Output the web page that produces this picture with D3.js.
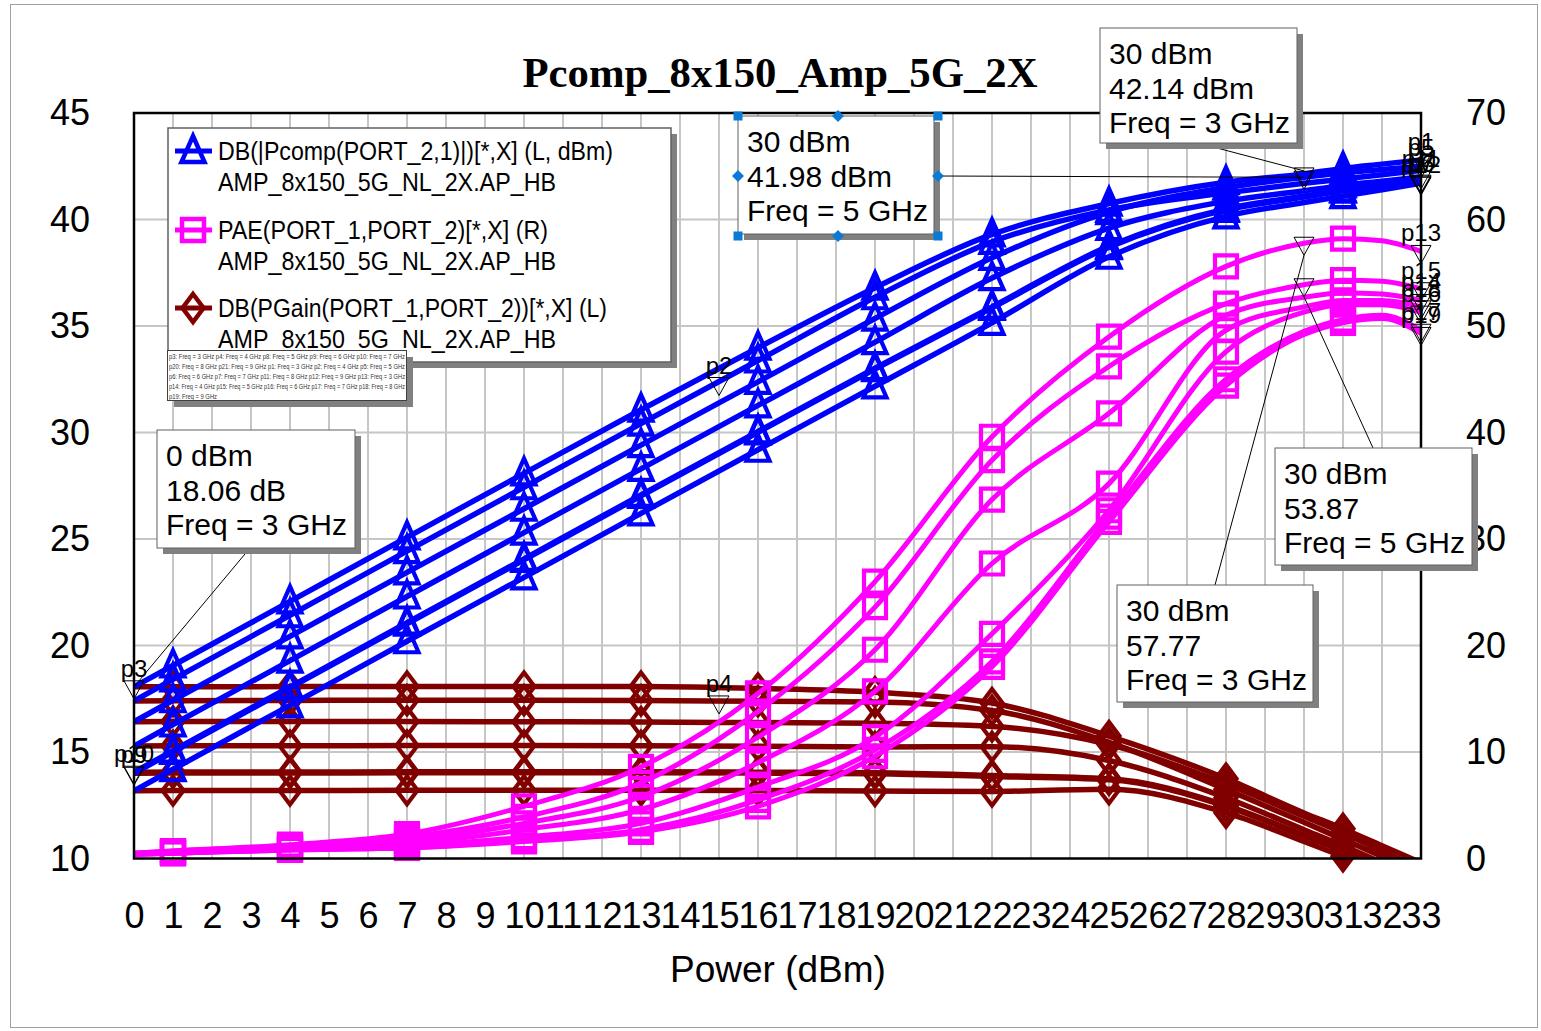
<!DOCTYPE html>
<html>
<head>
<meta charset="utf-8">
<script src="https://cdn.jsdelivr.net/npm/d3@7"></script>
<style>
  body { margin: 0; background: #fff; }
  svg { display: block; }
</style>
</head>
<body>
<svg id="chart" width="1541" height="1031"></svg>
<script>
// ---- Sweep (input power, dBm) and tick values ----
const powerIn = [0, 1, 4, 7, 10, 13, 16, 19, 22, 25, 28, 30, 31, 32, 33];
const symbolSteps = [1, 4, 7, 10, 13, 16, 19, 22, 25, 28, 31];
const xTicks = [0,1,2,3,4,5,6,7,8,9,10,11,12,13,14,15,16,17,18,19,20,21,22,23,24,25,26,27,28,29,30,31,32,33];
const leftTicks = [10, 15, 20, 25, 30, 35, 40, 45];
const rightTicks = [0, 10, 20, 30, 40, 50, 60, 70];
const freqs = ["3 GHz", "4 GHz", "5 GHz", "6 GHz", "7 GHz", "8 GHz", "9 GHz"];

// ---- DB(|Pcomp(PORT_2,1)|) output power, dBm (left axis) ----
const pcomp3GHz = [18.06,19.06,22.07,25.08,28.08,31.07,33.98,36.80,39.30,40.75,41.75,42.14,42.40,42.60,42.80];
const pcomp4GHz = [17.40,18.41,21.42,24.43,27.43,30.42,33.38,36.35,38.95,40.45,41.25,41.70,41.90,42.10,42.30];
const pcomp5GHz = [16.42,17.43,20.43,23.43,26.42,29.41,32.38,35.35,38.20,40.35,41.50,41.98,42.20,42.35,42.50];
const pcomp6GHz = [14.00,15.01,18.01,21.02,24.02,27.02,30.01,32.98,35.85,38.70,40.45,41.05,41.35,41.55,41.75];
const pcomp7GHz = [14.05,15.06,18.06,21.07,24.07,27.07,30.05,33.02,35.90,38.75,40.50,41.10,41.40,41.60,41.80];
const pcomp8GHz = [15.28,16.29,19.29,22.30,25.30,28.29,31.27,34.24,37.25,39.60,40.85,41.35,41.60,41.80,42.00];
const pcomp9GHz = [13.18,14.19,17.19,20.20,23.20,26.20,29.19,32.17,35.15,38.25,40.15,40.80,41.10,41.40,41.70];

// ---- PAE(PORT_1,PORT_2), % (right axis) ----
const pae3GHz = [0.5,0.7,1.3,2.3,4.9,8.6,15.5,26.0,39.6,49.0,55.6,57.77,58.2,58.0,57.0];
const pae4GHz = [0.5,0.6,1.1,1.7,3.3,5.8,11.4,19.6,33.7,41.8,51.0,52.7,53.1,53.0,52.4];
const pae5GHz = [0.5,0.7,1.2,2.0,3.9,7.1,13.8,23.6,37.4,46.2,52.1,53.87,54.3,54.2,53.5];
const pae6GHz = [0.4,0.5,0.9,1.2,2.0,3.3,6.7,11.4,21.1,32.7,47.6,51.3,52.0,52.0,51.3];
const pae7GHz = [0.4,0.5,0.8,1.0,1.7,2.7,5.5,10.2,18.5,32.1,45.0,49.5,50.6,51.0,49.6];
const pae8GHz = [0.4,0.6,1.0,1.4,2.7,4.6,9.0,15.7,27.7,35.2,49.6,51.8,52.4,52.4,51.8];
const pae9GHz = [0.4,0.5,0.8,1.0,1.6,2.5,4.9,9.6,18.0,31.6,44.4,49.2,50.3,50.7,49.3];

// ---- DB(PGain(PORT_1,PORT_2)) power gain, dB (left axis) ----
const gain3GHz = [18.06,18.06,18.07,18.08,18.08,18.07,17.98,17.80,17.30,15.75,13.75,12.14,11.40,10.60,9.80];
const gain4GHz = [17.40,17.41,17.42,17.43,17.43,17.42,17.38,17.35,16.95,15.45,13.25,11.70,10.90,10.10,9.30];
const gain5GHz = [16.42,16.43,16.43,16.43,16.42,16.41,16.38,16.35,16.20,15.35,13.50,11.98,11.20,10.35,9.50];
const gain6GHz = [14.00,14.01,14.01,14.02,14.02,14.02,14.01,13.98,13.85,13.70,12.45,11.05,10.35,9.55,8.75];
const gain7GHz = [14.05,14.06,14.06,14.07,14.07,14.07,14.05,14.02,13.90,13.75,12.50,11.10,10.40,9.60,8.80];
const gain8GHz = [15.28,15.29,15.29,15.30,15.30,15.29,15.27,15.24,15.25,14.60,12.85,11.35,10.60,9.80,9.00];
const gain9GHz = [13.18,13.19,13.19,13.20,13.20,13.20,13.19,13.17,13.15,13.25,12.15,10.80,10.10,9.40,8.70];

// ---- Named markers (label, input power, value, axis) ----
const markerNames  = ["p3","p9","p10","p4","p2","p1","p5","p6","p7","p11","p12","p13","p14","p15","p16","p17","p18","p19"];
const markerPower  = [0, 0, 0, 15, 15, 33, 33, 33, 33, 33, 33, 33, 33, 33, 33, 33, 33, 33];
const markerValues = [18.06, 14.00, 14.05, 17.35, 32.30, 42.80, 42.50, 41.75, 41.80, 42.00, 41.70, 57.0, 52.4, 53.5, 51.3, 49.6, 51.8, 49.3];
const markerAxis   = ["L","L","L","L","L","L","L","L","L","L","L","R","R","R","R","R","R","R"];

// ---- Marker read-outs ----
const readoutPower = [0, 30, 30, 30, 30];
const readoutValue = [18.06, 41.98, 42.14, 53.87, 57.77];
const readoutUnit  = [" dB", " dBm", " dBm", "", ""];
const readoutFreq  = ["3 GHz", "5 GHz", "3 GHz", "5 GHz", "3 GHz"];
const readoutAxis  = ["L", "L", "L", "R", "R"];

// ---- Marker list text ----
const markerListLines = [
  "p3: Freq = 3 GHz p4: Freq = 4 GHz p8: Freq = 5 GHz p9: Freq = 6 GHz p10: Freq = 7 GHz",
  "p20: Freq = 8 GHz p21: Freq = 9 GHz p1: Freq = 3 GHz p2: Freq = 4 GHz p5: Freq = 5 GHz",
  "p6: Freq = 6 GHz p7: Freq = 7 GHz p11: Freq = 8 GHz p12: Freq = 9 GHz p13: Freq = 3 GHz",
  "p14: Freq = 4 GHz p15: Freq = 5 GHz p16: Freq = 6 GHz p17: Freq = 7 GHz p18: Freq = 8 GHz",
  "p19: Freq = 9 GHz"
];

// =================================================================
const SANS = "'Liberation Sans', Arial, sans-serif";
const SERIF = "'Liberation Serif', 'Times New Roman', serif";
const svg = d3.select("#chart");
const plot = { left: 134, right: 1421, top: 113, bottom: 858.5 };

const x  = d3.scaleLinear().domain([0, 33]).range([plot.left, plot.right]);
const yL = d3.scaleLinear().domain([10, 45]).range([plot.bottom, plot.top]);
const yR = d3.scaleLinear().domain([0, 70]).range([plot.bottom, plot.top]);
const yOf = axis => axis === "R" ? yR : yL;

svg.append("rect").attr("width", 1541).attr("height", 1031).attr("fill", "#fff");
// outer border
svg.append("rect").attr("x", 10.5).attr("y", 4.5).attr("width", 1527).attr("height", 1023)
  .attr("fill", "none").attr("stroke", "#a0a0a0").attr("stroke-width", 1);

// title
svg.append("text").attr("x", 780).attr("y", 87).attr("text-anchor", "middle")
  .attr("font-family", SERIF).attr("font-weight", "bold").attr("font-size", 42)
  .attr("textLength", 515).attr("lengthAdjust", "spacingAndGlyphs")
  .text("Pcomp_8x150_Amp_5G_2X");

// grid
const grid = svg.append("g").attr("stroke", "#c6c6c6").attr("stroke-width", 2);
grid.selectAll("line.v").data(xTicks.filter(t => t > 0 && t < 33)).join("line")
  .attr("x1", d => x(d)).attr("x2", d => x(d)).attr("y1", plot.top).attr("y2", plot.bottom);
grid.selectAll("line.h").data(leftTicks.filter(t => t > 10 && t < 45)).join("line")
  .attr("x1", plot.left).attr("x2", plot.right).attr("y1", d => yL(d)).attr("y2", d => yL(d));

// axes
function styleAxis(g) {
  g.select(".domain").remove();
  g.attr("font-family", SANS).attr("font-size", 36);
  g.selectAll("text").attr("fill", "#000");
}
svg.append("g").attr("transform", `translate(0,${plot.bottom})`)
  .call(d3.axisBottom(x).tickValues(xTicks).tickSize(0).tickPadding(44).tickFormat(d3.format("d")))
  .call(styleAxis);
svg.append("g").attr("transform", `translate(${plot.left},0)`)
  .call(d3.axisLeft(yL).tickValues(leftTicks).tickSize(0).tickPadding(44).tickFormat(d3.format("d")))
  .call(styleAxis);
svg.append("g").attr("transform", `translate(${plot.right},0)`)
  .call(d3.axisRight(yR).tickValues(rightTicks).tickSize(0).tickPadding(45).tickFormat(d3.format("d")))
  .call(styleAxis);

svg.append("text").attr("x", 778).attr("y", 982).attr("text-anchor", "middle")
  .attr("font-family", SANS).attr("font-size", 37).text("Power (dBm)");

// clip for traces
svg.append("defs").append("clipPath").attr("id", "plotClip").append("rect")
  .attr("x", plot.left).attr("y", plot.top).attr("width", plot.right - plot.left).attr("height", plot.bottom - plot.top);

// symbol shapes
const symbolPath = {
  triangle: "M0,-15L11.5,11L-11.5,11Z",
  square: "M-11,-11H11V11H-11Z",
  diamond: "M0,-14L10.5,0L0,14L-10.5,0Z"
};

const traces = [
  { name: "gain", axis: "L", color: "#800000", width: 5.5, symbol: "diamond",
    series: [gain3GHz, gain4GHz, gain5GHz, gain6GHz, gain7GHz, gain8GHz, gain9GHz] },
  { name: "pae", axis: "R", color: "#ff00ff", width: 5, symbol: "square",
    series: [pae3GHz, pae4GHz, pae5GHz, pae6GHz, pae7GHz, pae8GHz, pae9GHz] },
  { name: "pcomp", axis: "L", color: "#0000ff", width: 5.5, symbol: "triangle",
    series: [pcomp3GHz, pcomp4GHz, pcomp5GHz, pcomp6GHz, pcomp7GHz, pcomp8GHz, pcomp9GHz] }
];

const traceLayer = svg.append("g");
traces.forEach(tr => {
  const ys = yOf(tr.axis);
  const line = d3.line().x((d, i) => x(powerIn[i])).y(d => ys(d)).curve(d3.curveMonotoneX);
  const g = traceLayer.append("g").attr("class", tr.name);
  g.append("g").attr("clip-path", "url(#plotClip)")
    .selectAll("path").data(tr.series).join("path")
    .attr("d", line).attr("fill", "none").attr("stroke", tr.color)
    .attr("stroke-width", tr.width).attr("stroke-linejoin", "round");
  const pts = [];
  tr.series.forEach((s, si) => s.forEach((v, i) => {
    if (symbolSteps.includes(powerIn[i])) pts.push({ px: x(powerIn[i]), py: ys(v) });
  }));
  g.append("g").selectAll("path").data(pts).join("path")
    .attr("transform", d => `translate(${d.px},${d.py})`)
    .attr("d", symbolPath[tr.symbol]).attr("fill", "none")
    .attr("stroke", tr.color).attr("stroke-width", 4.2).attr("stroke-linejoin", "miter");
});

// marker glyph: open downward triangle sitting just under the point
const markTri = "M-10,-6L10,-6L0,12Z";
const markLayer = svg.append("g");
markerNames.forEach((nm, i) => {
  const px = x(markerPower[i]), py = yOf(markerAxis[i])(markerValues[i]);
  markLayer.append("path").attr("transform", `translate(${px},${py})`).attr("d", markTri)
    .attr("fill", "none").attr("stroke", "#000").attr("stroke-width", 1);
  markLayer.append("text").attr("x", px).attr("y", py - 10).attr("text-anchor", "middle")
    .attr("font-family", SANS).attr("font-size", 24).attr("fill", "#000").text(nm);
});

// read-out boxes
const boxLayout = [
  { x: 157, y: 430, w: 198, h: 118, ax: 250, ay: 548, tip: 0 },
  { x: 738, y: 116, w: 196, h: 118, ax: 938, ay: 176, tip: 0, selected: true },
  { x: 1100, y: 28, w: 197, h: 115, ax: 1198, ay: 143, tip: -3 },
  { x: 1275, y: 448, w: 197, h: 117, ax: 1373, ay: 448, tip: 12 },
  { x: 1117, y: 585, w: 196, h: 117, ax: 1215, ay: 585, tip: 12 }
];
const readLayer = svg.append("g");
readoutValue.forEach((v, i) => {
  const b = boxLayout[i];
  const px = x(readoutPower[i]), py = yOf(readoutAxis[i])(v);
  if (readoutPower[i] !== 0) {
    readLayer.append("path").attr("transform", `translate(${px},${py})`).attr("d", markTri)
      .attr("fill", "none").attr("stroke", "#000").attr("stroke-width", 1);
  }
  readLayer.append("line").attr("x1", b.ax).attr("y1", b.ay).attr("x2", px).attr("y2", py + b.tip)
    .attr("stroke", "#000").attr("stroke-width", 1);
});
readoutValue.forEach((v, i) => {
  const b = boxLayout[i];
  const g = readLayer.append("g");
  g.append("rect").attr("x", b.x + 6).attr("y", b.y + 6).attr("width", b.w).attr("height", b.h).attr("fill", "#808080");
  g.append("rect").attr("x", b.x).attr("y", b.y).attr("width", b.w).attr("height", b.h)
    .attr("fill", "#fff").attr("stroke", "#606060").attr("stroke-width", 1);
  const lines = [`${readoutPower[i]} dBm`, `${v.toFixed(2)}${readoutUnit[i]}`, `Freq = ${readoutFreq[i]}`];
  g.selectAll("text").data(lines).join("text")
    .attr("x", b.x + 9).attr("y", (d, k) => b.y + 36 + k * 34.5)
    .attr("font-family", SANS).attr("font-size", 30).attr("fill", "#000").text(d => d);
  if (b.selected) {
    const hc = "#0a7ad6";
    const corners = [[b.x, b.y], [b.x + b.w + 4, b.y], [b.x, b.y + b.h + 2], [b.x + b.w + 4, b.y + b.h + 2]];
    const mids = [[b.x + (b.w + 4) / 2, b.y], [b.x, b.y + (b.h + 2) / 2], [b.x + b.w + 4, b.y + (b.h + 2) / 2], [b.x + (b.w + 4) / 2, b.y + b.h + 2]];
    g.selectAll("rect.h").data(corners).join("rect").attr("class", "h")
      .attr("x", d => d[0] - 4.5).attr("y", d => d[1] - 4.5).attr("width", 9).attr("height", 9).attr("fill", hc);
    g.selectAll("path.m").data(mids).join("path").attr("class", "m")
      .attr("transform", d => `translate(${d[0]},${d[1]})`).attr("d", "M0,-6L6,0L0,6L-6,0Z").attr("fill", hc);
  }
});

// legend
const legend = svg.append("g");
legend.append("rect").attr("x", 174).attr("y", 134).attr("width", 503).attr("height", 234).attr("fill", "#808080");
legend.append("rect").attr("x", 168).attr("y", 128).attr("width", 503).attr("height", 234)
  .attr("fill", "#fff").attr("stroke", "#606060").attr("stroke-width", 1.5);
const legendRows = [
  { trace: traces[2], y: 151, label: "DB(|Pcomp(PORT_2,1)|)[*,X] (L, dBm)", len: 395 },
  { trace: traces[1], y: 230, label: "PAE(PORT_1,PORT_2)[*,X] (R)", len: 330 },
  { trace: traces[0], y: 308, label: "DB(PGain(PORT_1,PORT_2))[*,X] (L)", len: 389 }
];
legendRows.forEach(r => {
  legend.append("line").attr("x1", 175).attr("x2", 212).attr("y1", r.y).attr("y2", r.y)
    .attr("stroke", r.trace.color).attr("stroke-width", 5);
  legend.append("path").attr("transform", `translate(193,${r.y})`).attr("d", symbolPath[r.trace.symbol])
    .attr("fill", "none").attr("stroke", r.trace.color).attr("stroke-width", 4.5);
  legend.append("text").attr("x", 218).attr("y", r.y + 9).attr("font-family", SANS).attr("font-size", 26)
    .attr("textLength", r.len).attr("lengthAdjust", "spacingAndGlyphs").text(r.label);
  legend.append("text").attr("x", 218).attr("y", r.y + 40).attr("font-family", SANS).attr("font-size", 26)
    .attr("textLength", 338).attr("lengthAdjust", "spacingAndGlyphs").text("AMP_8x150_5G_NL_2X.AP_HB");
});

// marker list
const mlist = svg.append("g");
mlist.append("rect").attr("x", 174).attr("y", 357).attr("width", 239).attr("height", 50).attr("fill", "#808080");
mlist.append("rect").attr("x", 167.5).attr("y", 350.5).attr("width", 239).attr("height", 50)
  .attr("fill", "#fff").attr("stroke", "#404040").attr("stroke-width", 1);
mlist.selectAll("text").data(markerListLines).join("text")
  .attr("x", 169).attr("y", (d, i) => 358.5 + i * 10)
  .attr("font-family", SANS).attr("font-size", 6.5).attr("fill", "#333")
  .attr("textLength", (d, i) => i === 4 ? 48 : 236).attr("lengthAdjust", "spacingAndGlyphs")
  .text(d => d);

// plot frame
svg.append("rect").attr("x", plot.left).attr("y", plot.top)
  .attr("width", plot.right - plot.left).attr("height", plot.bottom - plot.top)
  .attr("fill", "none").attr("stroke", "#000").attr("stroke-width", 2.5);
// read-out boxes, legend and marker list sit above the frame
readLayer.raise();
legend.raise();
mlist.raise();
</script>
</body>
</html>
